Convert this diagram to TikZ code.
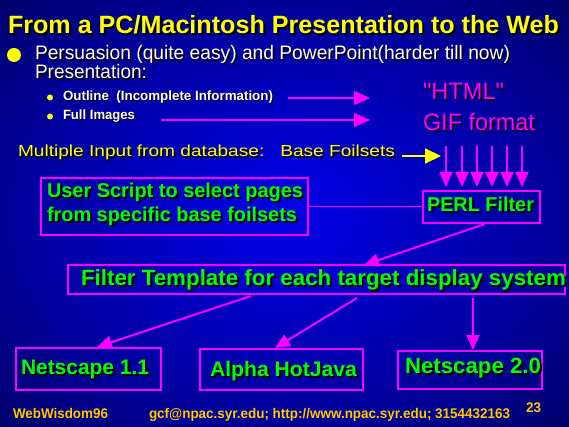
\documentclass[tikz,border=0pt]{standalone}
\usepackage{fontspec}
\setmainfont{Liberation Sans}
\newfontfamily\rawfont[Ligatures=ResetAll]{Liberation Sans}
\usetikzlibrary{arrows.meta,calc}
\definecolor{bgA}{RGB}{0,0,235}
\definecolor{bgB}{RGB}{0,0,150}
\definecolor{bgC}{RGB}{0,0,105}
\definecolor{mag}{RGB}{255,0,255}
\definecolor{grn}{RGB}{0,255,0}
\definecolor{yel}{RGB}{255,255,0}
\definecolor{gold}{RGB}{255,200,0}
\pgfdeclareradialshading{bgshade}{\pgfpoint{0bp}{0bp}}{color(0bp)=(bgA); color(25bp)=(bgB); color(36bp)=(bgC); color(50bp)=(bgC)}
\newlength\fitlen
\newcommand\fitx[2]{\settowidth\fitlen{#2}\pgfmathsetmacro\fitr{#1/\fitlen}\scalebox{\fitr}[1]{#2}}
\newcommand\stext[7]{%
  \node[txt, font=#4, text=black] at ($(#2)+(#6,#6)$) {\fitx{#3}{#7}};
  \node[txt, font=#4, text=#5] (#1) at (#2) {\fitx{#3}{#7}};}
\tikzset{
  marr/.style={draw=mag, line width=2pt, -{Triangle[length=15pt,width=13pt]}},
  boxx/.style={draw=mag, line width=2pt, inner sep=0pt, anchor=north west},
  txt/.style={anchor=base west, inner sep=0pt, outer sep=0pt},
}
\begin{document}
\begin{tikzpicture}[x=1pt,y=-1pt]
\useasboundingbox (0,0) rectangle (569,427);
\shade[shading=bgshade] (0,0) rectangle (569,427);

% boxes
\node[boxx, minimum width=267pt, minimum height=57pt] (userbox) at (40,177) {};
\node[boxx, minimum width=117pt, minimum height=32pt] (perl) at (422,190) {};
\node[boxx, minimum width=497pt, minimum height=29pt] (filter) at (67,264) {};
\node[boxx, minimum width=145pt, minimum height=42pt] (net1) at (15,347) {};
\node[boxx, minimum width=163pt, minimum height=41pt] (hj) at (199,348) {};
\node[boxx, minimum width=144pt, minimum height=38pt] (net2) at (397,350) {};

% bullets
\fill[yel] (14,55) circle (7);
\fill[yel] (50,97.5) circle (3);
\fill[yel] (50,116.5) circle (3);

% free arrows
\coordinate (oa) at (288,98);  \coordinate (ob) at (370,98);
\coordinate (fa) at (161,120); \coordinate (fb) at (370,120);
\draw[marr, -{Triangle[length=16pt,width=14pt]}] (oa) -- (ob);
\draw[marr, line width=1.6pt, -{Triangle[length=16pt,width=14pt]}] (fa) -- (fb);
\coordinate (ya) at (402,156); \coordinate (yb) at (441,156);
\draw[draw=yel, line width=2pt, -{Triangle[length=16pt,width=15pt]}] (ya) -- (yb);
\coordinate (perltop) at ($(perl.north)+(0,-3)$);
\foreach \i/\x in {1/446,2/462,3/477,4/492,5/507,6/522}{
  \coordinate (v\i) at (\x,146);
  \draw[marr] (v\i) -- (v\i |- perltop);
}

% connectors between boxes
\draw[draw=mag, line width=1.5pt] (userbox.east) -- (userbox.east -| perl.west);
\draw[marr] ($(perl.south)+(3.5,0)$) -- ($(filter.north)+(47.5,1)$);
\draw[marr] ($(filter.south)+(-65.5,1)$) -- ($(net1.north)+(8.5,0)$);
\draw[marr] ($(filter.south)+(40.5,3)$) -- ($(hj.north)+(-6.5,0)$);
\draw[marr] ($(filter.south)+(156.5,3)$) -- ($(net2.north)+(3,0)$);

% texts
\stext{title}{8,34}{551}{\bfseries\fontsize{25}{25}\selectfont}{yel}{2}{From a PC/Macintosh Presentation to the Web}
\stext{pers}{35,60}{475}{\fontsize{19.5}{19.5}\selectfont}{white}{1.5}{Persuasion (quite easy) and PowerPoint(harder till now)}
\stext{pres}{35,79}{112}{\fontsize{19.5}{19.5}\selectfont}{white}{1.5}{Presentation:}
\stext{outline}{63,101}{210}{\bfseries\fontsize{13.4}{13.4}\selectfont}{white}{1}{Outline\ \ (Incomplete Information)}
\stext{full}{63,120}{72}{\bfseries\fontsize{13.4}{13.4}\selectfont}{white}{1}{Full Images}
\stext{html}{423,100}{81}{\rawfont\fontsize{23.7}{23.7}\selectfont}{mag}{1.5}{"HTML"}
\stext{gif}{423,131}{112}{\fontsize{23.7}{23.7}\selectfont}{mag}{1.5}{GIF format}
\stext{multi}{18,157}{377}{\fontsize{16}{16}\selectfont}{yel}{1.5}{Multiple Input from database:\ \ \ Base Foilsets}
\stext{us1}{47,198}{256}{\bfseries\fontsize{20}{20}\selectfont}{grn}{2}{User Script to select pages}
\stext{us2}{47,222}{250}{\bfseries\fontsize{20}{20}\selectfont}{grn}{2}{from specific base foilsets}
\stext{perltxt}{427,212}{107}{\bfseries\fontsize{20}{20}\selectfont}{grn}{2}{PERL Filter}
\stext{filtertxt}{81,285}{485}{\bfseries\fontsize{22}{22}\selectfont}{grn}{2}{Filter Template for each target display system}
\stext{n11}{21,374}{128}{\bfseries\fontsize{21}{21}\selectfont}{grn}{2}{Netscape 1.1}
\stext{hjtxt}{210,376}{147}{\bfseries\fontsize{21}{21}\selectfont}{grn}{2}{Alpha HotJava}
\stext{n20}{405,373}{136}{\bfseries\fontsize{22}{22}\selectfont}{grn}{2}{Netscape 2.0}

% footer
\node[txt, font=\bfseries\fontsize{14}{14}\selectfont, text=gold] (f1) at (13,418) {\fitx{95}{WebWisdom96}};
\node[txt, font=\bfseries\fontsize{14}{14}\selectfont, text=gold] (f2) at (149,418) {\fitx{361}{gcf@npac.syr.edu; http://www.npac.syr.edu; 3154432163}};
\node[txt, font=\bfseries\fontsize{14}{14}\selectfont, text=gold] (f3) at (526,412) {\fitx{15}{23}};
\end{tikzpicture}
\end{document}
